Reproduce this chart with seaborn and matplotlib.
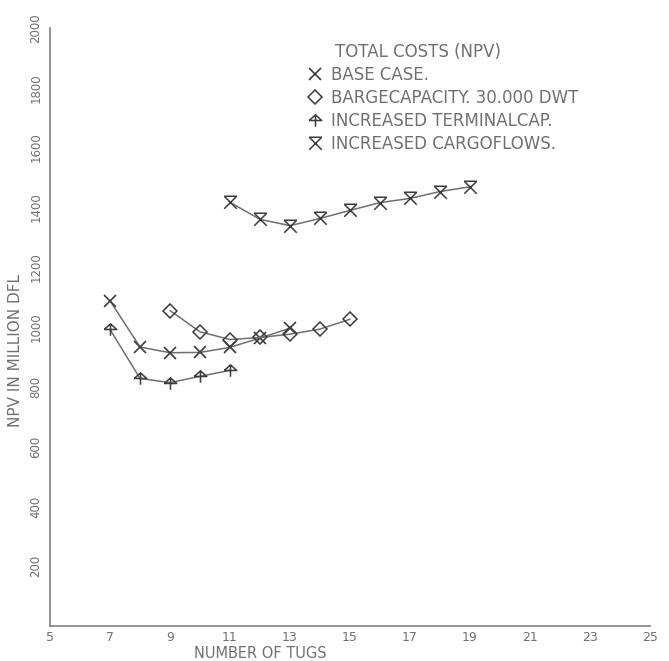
# %% Imports
import numpy as np
import pandas as pd
import matplotlib
matplotlib.use("Agg")
import matplotlib.pyplot as plt
from matplotlib.path import Path
from matplotlib.lines import Line2D
import seaborn as sns

# %% Data (NPV in million DFL)
tugs_base = [7, 8, 9, 10, 11, 12, 13]
npv_base = [1088, 933, 914, 915, 932, 963, 996]

tugs_barge = [9, 10, 11, 12, 13, 14, 15]
npv_barge = [1055, 984, 958, 965, 976, 993, 1026]

tugs_terminal = [7, 8, 9, 10, 11]
npv_terminal = [992, 828, 814, 835, 855]

tugs_cargo = [11, 12, 13, 14, 15, 16, 17, 18, 19]
npv_cargo = [1417, 1360, 1339, 1363, 1390, 1416, 1430, 1453, 1469]

series_labels = ["BASE CASE.", "BARGECAPACITY. 30.000 DWT",
                 "INCREASED TERMINALCAP.", "INCREASED CARGOFLOWS."]
x_ticks = list(range(5, 26, 2))
y_ticks = list(range(200, 2001, 200))

# %% Custom markers
tent = Path([(-1, 0), (0, 0.9), (1, 0), (-1, 0), (0, 0.9), (0, -1)],
            [Path.MOVETO, Path.LINETO, Path.LINETO, Path.LINETO,
             Path.MOVETO, Path.LINETO])
hourglass = Path([(-1, 1), (1, -1), (1, 1), (-1, -1), (-1, 1), (1, 1)],
                 [Path.MOVETO, Path.LINETO, Path.MOVETO, Path.LINETO,
                  Path.MOVETO, Path.LINETO])

line_col = "#707070"
mark_col = "#3c3c3c"
text_col = "#707070"

styles = [
    dict(marker="x", markersize=9, markeredgewidth=1.2),
    dict(marker="D", markersize=7, markeredgewidth=1.1, markerfacecolor="none"),
    dict(marker=tent, markersize=9, markeredgewidth=1.1, markerfacecolor="none"),
    dict(marker=hourglass, markersize=9, markeredgewidth=1.1, markerfacecolor="none"),
]

# %% Plot
sns.set_style("white")
plt.rcParams["font.family"] = ["DejaVu Sans"]

fig = plt.figure(figsize=(6.69, 6.61), dpi=100)
ax = fig.add_axes([50 / 669, 35 / 661, 600 / 669, 598 / 661])

data = [(tugs_base, npv_base), (tugs_barge, npv_barge),
        (tugs_terminal, npv_terminal), (tugs_cargo, npv_cargo)]
for (xs, ys), st in zip(data, styles):
    sns.lineplot(x=xs, y=ys, ax=ax, color=line_col, linewidth=1.1,
                 markeredgecolor=mark_col, **st)

ax.set_xlim(5, 25)
ax.set_ylim(0, 2000)
ax.set_xticks(x_ticks)
ax.set_yticks(y_ticks)
ax.set_xticklabels([str(t) for t in x_ticks], fontsize=9, color=text_col)
ax.set_yticklabels([str(t) for t in y_ticks], fontsize=8.5, color=text_col,
                   rotation=90, va="center")
ax.tick_params(axis="both", direction="inout", length=7, width=1, color="#888888")
ax.tick_params(axis="x", pad=0)
ax.tick_params(axis="y", pad=2)

for side in ["top", "right"]:
    ax.spines[side].set_visible(False)
for side in ["left", "bottom"]:
    ax.spines[side].set_color("#8a8a8a")
    ax.spines[side].set_linewidth(1.3)

ax.set_xlabel("NUMBER OF TUGS", fontsize=10.5, color=text_col)
ax.xaxis.set_label_coords(0.35, -0.034)
ax.set_ylabel("NPV IN MILLION DFL", fontsize=11, color=text_col)
ax.yaxis.set_label_coords(-0.045, 0.46)

# %% Legend
handles = [Line2D([], [], linestyle="none", color=mark_col,
                  markeredgecolor=mark_col, **st) for st in styles]
fig.text(335 / 669, 1 - 52 / 661, "TOTAL COSTS (NPV)", fontsize=12,
         color=text_col, va="center")
ax.legend(handles, series_labels, loc="upper left",
          bbox_to_anchor=(308 / 669, 1 - 66 / 661), bbox_transform=fig.transFigure,
          frameon=False, fontsize=12, labelcolor=text_col, handlelength=0.8,
          handletextpad=0.6, labelspacing=0.3, borderpad=0, borderaxespad=0)

fig.savefig("out.png", dpi=100, facecolor="white")
